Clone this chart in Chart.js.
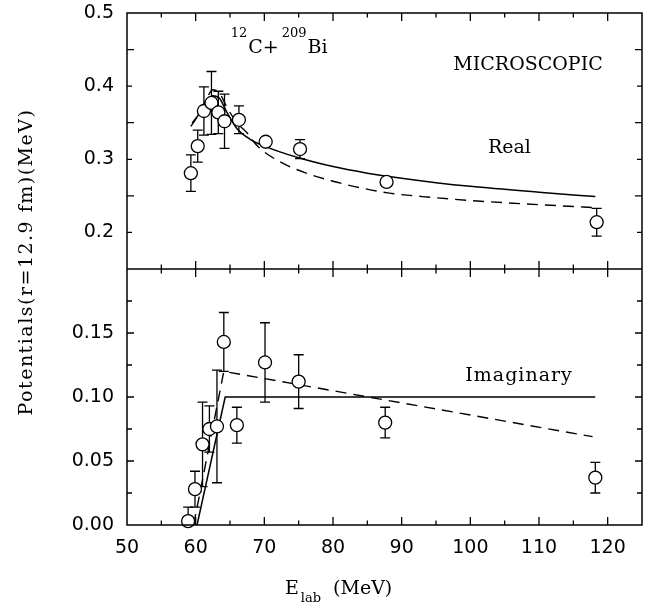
<!DOCTYPE html>
<html>
<head>
<meta charset="utf-8">
<script src="https://cdn.jsdelivr.net/npm/chart.js@4.4.0/dist/chart.umd.min.js"></script>
<style>
  html, body { margin: 0; padding: 0; background: #fff; }
  #wrap { position: relative; width: 658px; height: 608px; }
</style>
</head>
<body>
<div id="wrap"><canvas id="chart" width="658" height="608"></canvas></div>
<script>
const realE   = [59.3, 60.3, 61.2, 62.3, 63.3, 64.2, 66.3, 70.2, 75.2, 87.8, 118.4];
const realV   = [0.281, 0.318, 0.366, 0.377, 0.364, 0.352, 0.354, 0.324, 0.314, 0.269, 0.214];
const realErr = [0.025, 0.022, 0.033, 0.043, 0.029, 0.037, 0.019, 0, 0.013, 0, 0.019];

const imagE   = [58.9, 59.9, 61.0, 62.0, 63.1, 64.1, 66.0, 70.1, 75.0, 87.6, 118.2];
const imagV   = [0.003, 0.028, 0.063, 0.075, 0.077, 0.143, 0.078, 0.127, 0.112, 0.080, 0.037];
const imagErr = [0.011, 0.014, 0.033, 0.018, 0.044, 0.023, 0.014, 0.031, 0.021, 0.012, 0.012];

// model curves
const realSolidE = [59.5, 60.5, 61.5, 62.5, 63.5, 64.5, 66, 68, 70, 75, 80, 85, 90, 95, 100, 110, 118.2];
const realSolidV = [0.350, 0.362, 0.378, 0.387, 0.383, 0.365, 0.342, 0.327, 0.318, 0.302, 0.290, 0.281, 0.274, 0.268, 0.263, 0.255, 0.249];
const realDashE  = [59.3, 60.5, 61.5, 62.5, 63.5, 64.5, 66, 67.5, 69, 72, 75.8, 80, 84, 88, 93, 101, 110, 117.9];
const realDashV  = [0.345, 0.362, 0.381, 0.395, 0.390, 0.372, 0.350, 0.336, 0.318, 0.298, 0.282, 0.270, 0.261, 0.254, 0.249, 0.243, 0.238, 0.234];
const imagSolidE = [60.2, 64.3, 118.2];
const imagSolidV = [0, 0.1, 0.1];
const imagDashE  = [59.7, 64.1, 117.8];
const imagDashV  = [0, 0.12, 0.069];

// axes
const xTicks    = [50, 60, 70, 80, 90, 100, 110, 120];
const realTicks = [0.2, 0.3, 0.4, 0.5];
const imagTicks = [0.00, 0.05, 0.10, 0.15];

const SERIF = '"DejaVu Serif", serif';
const SANS = '"DejaVu Sans", sans-serif';

function pts(xs, ys) { return xs.map((x, i) => ({x: x, y: ys[i]})); }

const errorBars = {
  id: 'errorBars',
  beforeDatasetsDraw(chart) {
    const ctx = chart.ctx;
    const x = chart.scales.x;
    const sets = [
      [chart.scales.yRe, realE, realV, realErr],
      [chart.scales.yIm, imagE, imagV, imagErr]
    ];
    ctx.save();
    ctx.strokeStyle = '#000';
    ctx.lineWidth = 1.3;
    sets.forEach(([ys, es, vs, errs]) => {
      es.forEach((e, i) => {
        if (!errs[i]) return;
        const px = x.getPixelForValue(e);
        const lo = Math.max(vs[i] - errs[i], ys.min);
        const hi = Math.min(vs[i] + errs[i], ys.max);
        const p1 = ys.getPixelForValue(lo), p2 = ys.getPixelForValue(hi);
        ctx.beginPath();
        ctx.moveTo(px, p1); ctx.lineTo(px, p2);
        ctx.moveTo(px - 5, p2); ctx.lineTo(px + 5, p2);
        if (lo > ys.min) { ctx.moveTo(px - 5, p1); ctx.lineTo(px + 5, p1); }
        ctx.stroke();
      });
    });
    ctx.restore();
  }
};

// frame, divider and inward tick marks (major + minor)
const frame = {
  id: 'frame',
  afterDatasetsDraw(chart) {
    const {ctx, chartArea: a, scales} = chart;
    const x = scales.x, yRe = scales.yRe, yIm = scales.yIm;
    const mid = yRe.bottom;
    ctx.save();
    ctx.strokeStyle = '#000';
    ctx.lineWidth = 1.5;
    ctx.strokeRect(a.left, a.top, a.width, a.height);
    ctx.beginPath();
    ctx.moveTo(a.left, mid); ctx.lineTo(a.right, mid);
    ctx.stroke();

    ctx.lineWidth = 1.3;
    ctx.beginPath();
    for (let i = 1; i < 15; i++) {
      const v = 50 + i * 5;
      const px = x.getPixelForValue(v);
      const len = v % 10 === 0 ? 8 : 4.5;
      ctx.moveTo(px, a.bottom); ctx.lineTo(px, a.bottom - len);
      ctx.moveTo(px, a.top); ctx.lineTo(px, a.top + len);
      ctx.moveTo(px, mid - len); ctx.lineTo(px, mid + len);
    }
    const yTicks = (scale, step, n, majorEvery) => {
      for (let i = 1; i < n; i++) {
        const py = scale.getPixelForValue(scale.min + i * step);
        const len = (i % majorEvery === 0) ? 7 : 5;
        ctx.moveTo(a.left, py); ctx.lineTo(a.left + len, py);
        ctx.moveTo(a.right, py); ctx.lineTo(a.right - len, py);
      }
    };
    yTicks(yRe, 0.05, 7, 2);   // 0.15 .. 0.5, majors on 0.2, 0.3, 0.4
    yTicks(yIm, 0.025, 8, 2);  // 0 .. 0.2, majors on 0.05 steps
    ctx.stroke();
    ctx.restore();
  }
};

const labels = {
  id: 'labels',
  afterDraw(chart) {
    const {ctx, chartArea: a, scales} = chart;
    const x = scales.x, yRe = scales.yRe, yIm = scales.yIm;
    ctx.save();
    ctx.fillStyle = '#000';
    ctx.textBaseline = 'alphabetic';

    ctx.font = '19px ' + SERIF;
    ctx.textAlign = 'center';
    ctx.fillText('MICROSCOPIC', x.getPixelForValue(108.4), yRe.getPixelForValue(0.422));
    ctx.fillText('Real', x.getPixelForValue(105.7), yRe.getPixelForValue(0.309));
    ctx.letterSpacing = '1px';
    ctx.fillText('Imaginary', x.getPixelForValue(107.1), yIm.getPixelForValue(0.1123));
    ctx.letterSpacing = '0px';

    // 12C + 209Bi
    ctx.textAlign = 'left';
    let px = x.getPixelForValue(65.1);
    const base = yRe.getPixelForValue(0.4455);
    const part = (txt, size, dy) => {
      ctx.font = size + 'px ' + SERIF;
      ctx.fillText(txt, px, base + dy);
      px += ctx.measureText(txt).width;
    };
    part('12', 13, -16);
    px += 1;
    part('C+', 19, 0);
    px += 3;
    part('209', 13, -16);
    px += 1;
    part('Bi', 19, 0);

    // x title with subscript
    px = x.getPixelForValue(73.0);
    const xb = a.bottom + 69;
    ctx.font = '19px ' + SERIF;
    ctx.fillText('E', px, xb);
    px += ctx.measureText('E').width + 2;
    ctx.font = '13px ' + SERIF;
    ctx.fillText('lab', px, xb + 8);
    px += ctx.measureText('lab').width + 12;
    ctx.font = '19px ' + SERIF;
    ctx.fillText('(MeV)', px, xb);

    // y title
    ctx.translate(32, (a.top + a.bottom) / 2 - 7);
    ctx.rotate(-Math.PI / 2);
    ctx.textAlign = 'center';
    ctx.font = '19px ' + SERIF;
    ctx.letterSpacing = '1.5px';
    ctx.fillText('Potentials(r=12.9 fm)(MeV)', 0, 0);
    ctx.restore();
  }
};

const tickFont = {family: SANS, size: 19};

// y scales: fixed width, no extra padding so the plot box sits where the figure has it
function fitY(s) {
  s.width = 127;
  s.paddingTop = 0;
  s.paddingBottom = 0;
}

new Chart(document.getElementById('chart'), {
  type: 'scatter',
  data: {
    datasets: [
      {
        data: pts(realE, realV), yAxisID: 'yRe', clip: false,
        pointRadius: 6.5, pointBorderWidth: 1.3,
        pointBorderColor: '#000', pointBackgroundColor: '#fff'
      },
      {
        data: pts(imagE, imagV), yAxisID: 'yIm', clip: false,
        pointRadius: 6.5, pointBorderWidth: 1.3,
        pointBorderColor: '#000', pointBackgroundColor: '#fff'
      },
      {
        data: pts(realSolidE, realSolidV), yAxisID: 'yRe', showLine: true,
        borderColor: '#000', borderWidth: 1.5, pointRadius: 0,
        cubicInterpolationMode: 'monotone'
      },
      {
        data: pts(realDashE, realDashV), yAxisID: 'yRe', showLine: true,
        borderColor: '#000', borderWidth: 1.4, borderDash: [11, 7], pointRadius: 0,
        cubicInterpolationMode: 'monotone'
      },
      {
        data: pts(imagSolidE, imagSolidV), yAxisID: 'yIm', showLine: true,
        borderColor: '#000', borderWidth: 1.5, pointRadius: 0
      },
      {
        data: pts(imagDashE, imagDashV), yAxisID: 'yIm', showLine: true,
        borderColor: '#000', borderWidth: 1.4, borderDash: [11, 7], pointRadius: 0
      }
    ]
  },
  options: {
    responsive: false,
    animation: false,
    layout: {padding: {left: 0, right: 16, top: 13, bottom: 0}},
    plugins: {legend: {display: false}, tooltip: {enabled: false}},
    scales: {
      x: {
        type: 'linear', min: 50, max: 125,
        grid: {display: false, drawTicks: false},
        border: {display: false},
        afterBuildTicks: s => { s.ticks = xTicks.map(v => ({value: v})); },
        afterFit: s => { s.height = 83; s.paddingLeft = 0; s.paddingRight = 0; },
        ticks: {color: '#000', font: tickFont, padding: 12, maxRotation: 0,
                callback: v => String(v)}
      },
      yIm: {
        type: 'linear', position: 'left', stack: 'v', stackWeight: 1,
        min: 0, max: 0.2,
        grid: {display: false, drawTicks: false},
        border: {display: false},
        afterBuildTicks: s => { s.ticks = imagTicks.map(v => ({value: v})); },
        afterFit: fitY,
        ticks: {color: '#000', font: tickFont, padding: 13,
                callback: v => Number(v).toFixed(2)}
      },
      yRe: {
        type: 'linear', position: 'left', stack: 'v', stackWeight: 1,
        min: 0.15, max: 0.5,
        grid: {display: false, drawTicks: false},
        border: {display: false},
        afterBuildTicks: s => { s.ticks = realTicks.map(v => ({value: v})); },
        afterFit: fitY,
        ticks: {color: '#000', font: tickFont, padding: 13,
                callback: v => Number(v).toFixed(1)}
      }
    }
  },
  plugins: [errorBars, frame, labels]
});
</script>
</body>
</html>
